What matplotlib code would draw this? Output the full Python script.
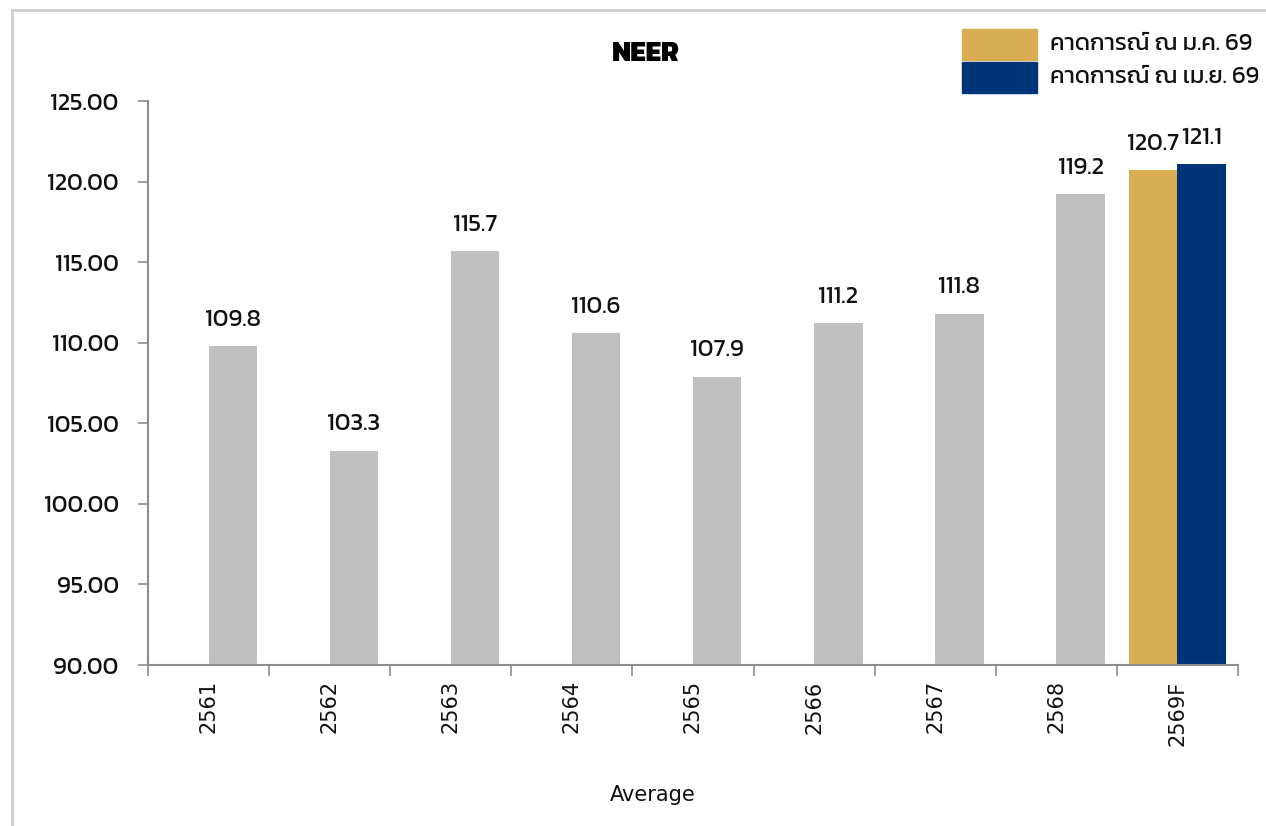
import matplotlib
matplotlib.use("Agg")
import matplotlib.pyplot as plt
from matplotlib import font_manager, ft2font
from matplotlib.patches import Rectangle
from matplotlib.lines import Line2D
import numpy as np

# ---- data ----
years = ["2561", "2562", "2563", "2564", "2565", "2566", "2567", "2568", "2569F"]
neer_actual = [109.8, 103.3, 115.7, 110.6, 107.9, 111.2, 111.8, 119.2, None]
forecast_jan = [None, None, None, None, None, None, None, None, 120.7]
forecast_apr = [None, None, None, None, None, None, None, None, 121.1]
legend_labels = ["คาดการณ์ ณ ม.ค. 69", "คาดการณ์ ณ เม.ย. 69"]
title = "NEER"
xlabel = "Average"
y_ticks = [90, 95, 100, 105, 110, 115, 120, 125]

GRAY = "#BFBFBF"
GOLD = "#D9AE52"
NAVY = "#003478"
SPINE = "#8C8C8C"


def find_thai_family():
    # pick an installed family that covers the Thai block
    found = []
    for f in font_manager.fontManager.ttflist:
        try:
            cm = ft2font.FT2Font(f.fname).get_charmap()
        except Exception:
            continue
        if 0x0E04 in cm and 0x0E13 in cm:
            found.append(f.name)
    for pref in ["Kanit", "Prompt", "Noto Sans Thai", "Noto Sans Thai Looped",
                 "Sarabun", "Loma", "Garuda", "Tlwg Typist", "Norasi"]:
        if pref in found:
            return pref
    return found[0] if found else None


thai = find_thai_family()
families = ([thai] if thai else []) + ["DejaVu Sans"]
plain = ["DejaVu Sans"]
plt.rcParams["font.family"] = families

fig = plt.figure(figsize=(12.66, 8.26), dpi=100)
ax = fig.add_axes([148 / 1266, 1 - 665 / 826, (1238 - 148) / 1266, (665 - 101) / 826])

x = np.arange(len(years))
w = 0.4


def series(vals):
    xs = [x[i] for i, v in enumerate(vals) if v is not None]
    ys = [v for v in vals if v is not None]
    return np.array(xs, dtype=float), np.array(ys, dtype=float)


base = 90
for vals, off, color in [(neer_actual, w / 2, GRAY), (forecast_jan, -w / 2, GOLD), (forecast_apr, w / 2, NAVY)]:
    xs, ys = series(vals)
    ax.bar(xs + off, ys - base, bottom=base, width=w, color=color, zorder=2)
    for xi, yi in zip(xs + off, ys):
        ax.annotate(f"{yi:.1f}", (xi, yi), xytext=(0, 11), textcoords="offset points",
                    ha="center", va="bottom", fontsize=17.5, color="#111111")

ax.set_xlim(-0.5, len(years) - 0.5)
ax.set_ylim(90, 125)
ax.set_yticks(y_ticks)
ax.set_yticklabels([f"{t:.2f}" for t in y_ticks], fontsize=17.5, color="#111111")
ax.tick_params(axis="y", length=7, width=1.2, color=SPINE, pad=14)

ax.set_xticks(np.arange(-0.5, len(years)), labels=[""] * (len(years) + 1))
ax.set_xticks(x, labels=years, minor=True)
ax.tick_params(axis="x", which="major", length=8, width=1.2, color=SPINE)
ax.tick_params(axis="x", which="minor", length=0, pad=11, labelrotation=90,
               labelcolor="#111111")
for t in ax.get_xticklabels(minor=True):
    t.set_fontfamily(plain)
    t.set_fontsize(15)

for s in ["top", "right"]:
    ax.spines[s].set_visible(False)
for s in ["left", "bottom"]:
    ax.spines[s].set_color(SPINE)
    ax.spines[s].set_linewidth(1.5)

ax.set_xlabel(xlabel, fontsize=15, color="#111111", family=plain)
ax.xaxis.set_label_coords((653 - 148) / (1238 - 148), -(795 - 665) / (665 - 101))
ax.xaxis.label.set_va("center")

fig.text(646 / 1266, 1 - 54 / 826, title, ha="center", va="center",
         fontsize=20, fontweight="heavy", color="black")

# legend drawn as figure-level swatches
for i, (lab, col) in enumerate(zip(legend_labels, [GOLD, NAVY])):
    top = 29 + i * 33
    fig.patches.append(Rectangle((962 / 1266, 1 - (top + 31) / 826), 75 / 1266, 31 / 826,
                                 transform=fig.transFigure, color=col))
    fig.text(1050 / 1266, 1 - (top + 15) / 826, lab, ha="left", va="center",
             fontsize=17, color="#111111")

# outer frame (top and left edges)
fig.add_artist(Line2D([12 / 1266, 1], [1 - 10 / 826] * 2, transform=fig.transFigure,
                      color="#CFCFCF", lw=2))
fig.add_artist(Line2D([12 / 1266] * 2, [0, 1 - 10 / 826], transform=fig.transFigure,
                      color="#CFCFCF", lw=2))

fig.savefig("out.png", dpi=100)
